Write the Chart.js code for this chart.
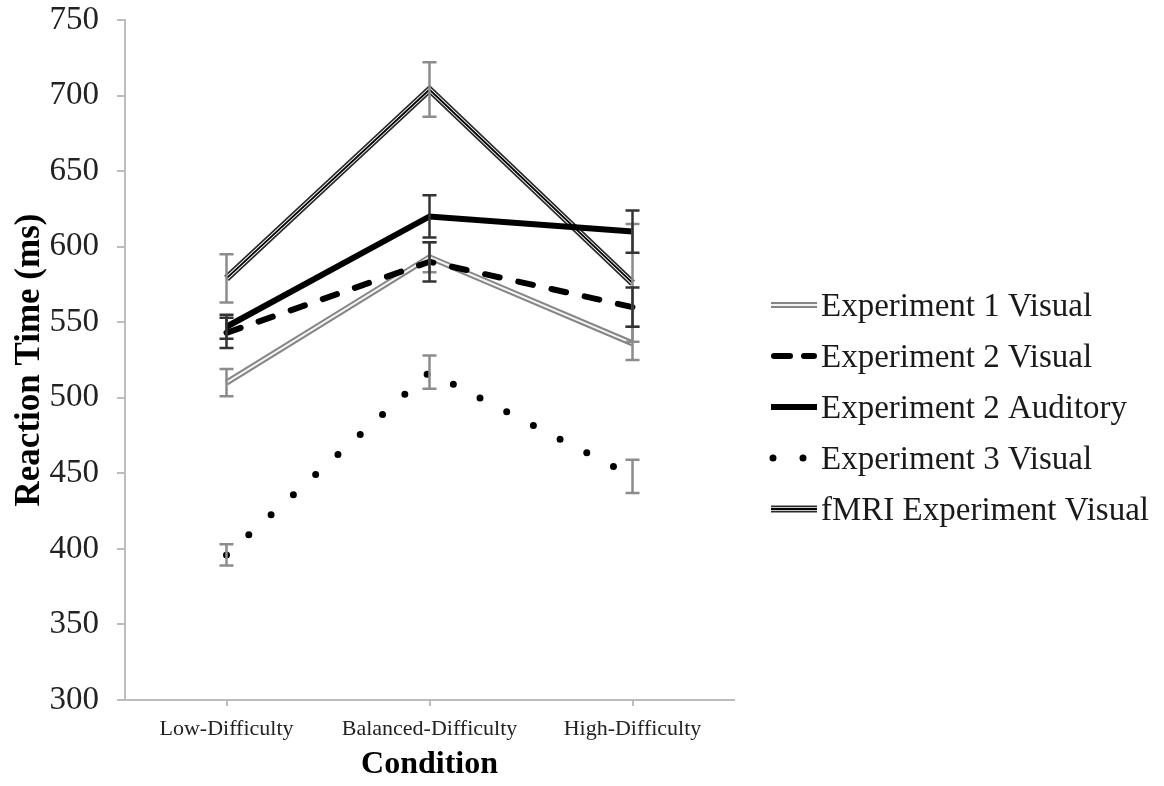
<!DOCTYPE html>
<html>
<head>
<meta charset="utf-8">
<script src="https://cdn.jsdelivr.net/npm/chart.js@4.4.0/dist/chart.umd.min.js"></script>
<style>
  html, body { margin: 0; padding: 0; background: #fff; }
</style>
</head>
<body>
<canvas id="grafico" width="1164" height="786"></canvas>
<script>
// Datos
const condiciones = ['Low-Difficulty', 'Balanced-Difficulty', 'High-Difficulty'];

const exp1Visual = [510, 593, 536];
const exp1VisualErr = [9, 10, 11];

const exp2Visual = [543, 590, 560];
const exp2VisualErr = [10, 13, 13];

const exp2Auditivo = [547, 620, 610];
const exp2AuditivoErr = [8, 14, 14];

const exp3Visual = [396, 517, 448];
const exp3VisualErr = [7, 11, 11];

const fmriVisual = [579, 704, 576];
const fmriVisualErr = [16, 18, 39];

const ejeYMin = 300;
const ejeYMax = 750;
const ejeYPaso = 50;

const fuente = "'Liberation Serif', 'Times New Roman', serif";

// Estilo de cada serie (capas de abajo hacia arriba)
const series = {
    exp1: { nombre: 'Experiment 1 Visual', datos: exp1Visual, err: exp1VisualErr, colorErr: '#8c8c8c',
            capas: [{ color: '#858585', ancho: 6 }, { color: '#f4f4f4', ancho: 2 }] },
    exp2v: { nombre: 'Experiment 2 Visual', datos: exp2Visual, err: exp2VisualErr, colorErr: '#333',
            capas: [{ color: '#000', ancho: 6, dash: [15, 19], cap: 'round' }] },
    exp2a: { nombre: 'Experiment 2 Auditory', datos: exp2Auditivo, err: exp2AuditivoErr, colorErr: '#333',
            capas: [{ color: '#000', ancho: 6 }] },
    exp3: { nombre: 'Experiment 3 Visual', datos: exp3Visual, err: exp3VisualErr, colorErr: '#8c8c8c',
            capas: [{ color: '#000', ancho: 7, dash: [0, 30], cap: 'round' }] },
    fmri: { nombre: 'fMRI Experiment Visual', datos: fmriVisual, err: fmriVisualErr, colorErr: '#8c8c8c',
            capas: [{ color: '#2a2a2a', ancho: 7 }, { color: '#fff', ancho: 3.6 }, { color: '#000', ancho: 1.8 }] }
};

const ordenLeyenda = ['exp1', 'exp2v', 'exp2a', 'exp3', 'fmri'];
const ordenDibujo = ['fmri', 'exp1', 'exp3', 'exp2a', 'exp2v'];

// Construir datasets: una capa por dataset
let datasets = [];
ordenDibujo.forEach(function(clave) {
    const s = series[clave];
    s.capas.forEach(function(capa, k) {
        datasets.push({
            label: s.nombre + (k ? ' ' + k : ''),
            data: s.datos,
            borderColor: capa.color,
            borderWidth: capa.ancho,
            borderDash: capa.dash || [],
            borderCapStyle: capa.cap || 'butt',
            borderJoinStyle: 'miter',
            pointRadius: 0,
            tension: 0,
            fill: false,
            order: -datasets.length,
            errores: k === 0 ? s.err : null,
            colorErr: s.colorErr
        });
    });
});

// Barras de error
const barrasError = {
    id: 'barrasError',
    afterDatasetsDraw(chart) {
        const ctx = chart.ctx;
        const y = chart.scales.y;
        chart.data.datasets.forEach(function(ds, i) {
            if (!ds.errores) return;
            const meta = chart.getDatasetMeta(i);
            meta.data.forEach(function(p, j) {
                const v = ds.data[j];
                const yTop = y.getPixelForValue(v + ds.errores[j]);
                const yBot = y.getPixelForValue(v - ds.errores[j]);
                ctx.save();
                ctx.strokeStyle = ds.colorErr;
                ctx.lineWidth = 2.5;
                ctx.beginPath();
                ctx.moveTo(p.x, yTop);
                ctx.lineTo(p.x, yBot);
                ctx.moveTo(p.x - 7, yTop);
                ctx.lineTo(p.x + 7, yTop);
                ctx.moveTo(p.x - 7, yBot);
                ctx.lineTo(p.x + 7, yBot);
                ctx.stroke();
                ctx.restore();
            });
        });
    }
};

// Leyenda a la derecha con muestras de línea compuestas
const leyendaLateral = {
    id: 'leyendaLateral',
    afterDraw(chart) {
        const ctx = chart.ctx;
        const x0 = 771, x1 = 817, xTexto = 821;
        ordenLeyenda.forEach(function(clave, i) {
            const s = series[clave];
            const yy = 305 + i * 51;
            s.capas.forEach(function(capa) {
                ctx.save();
                ctx.strokeStyle = capa.color;
                ctx.lineWidth = capa.ancho;
                ctx.setLineDash(capa.dash ? (capa.dash[0] === 0 ? [0, 30] : [16, 14]) : []);
                ctx.lineCap = capa.cap || 'butt';
                ctx.beginPath();
                if (capa.dash && capa.dash[0] === 0) {
                    ctx.moveTo(x0 + 2, yy);
                    ctx.lineTo(x1 - 10, yy);
                } else if (capa.dash) {
                    ctx.moveTo(x0 + 3, yy);
                    ctx.lineTo(x1 - 3, yy);
                } else {
                    ctx.moveTo(x0, yy);
                    ctx.lineTo(x1, yy);
                }
                ctx.stroke();
                ctx.restore();
            });
            ctx.save();
            ctx.fillStyle = '#1a1a1a';
            ctx.font = '33px ' + fuente;
            ctx.textBaseline = 'middle';
            ctx.fillText(s.nombre, xTexto, yy + 2);
            ctx.restore();
        });
    }
};

const ctx = document.getElementById('grafico').getContext('2d');
const grafico = new Chart(ctx, {
    type: 'line',
    data: {
        labels: condiciones,
        datasets: datasets
    },
    options: {
        responsive: false,
        animation: false,
        devicePixelRatio: 1,
        layout: { padding: { top: 20, right: 430, left: 0, bottom: 0 } },
        plugins: {
            legend: { display: false },
            tooltip: { enabled: false }
        },
        scales: {
            x: {
                offset: true,
                grid: { display: true, drawOnChartArea: false, drawTicks: true, tickLength: 6, color: '#bdbdbd', lineWidth: 2 },
                border: { color: '#bdbdbd', width: 2 },
                ticks: { color: '#222', font: { family: fuente, size: 22 }, padding: 10, maxRotation: 0 },
                title: { display: true, text: 'Condition', color: '#000',
                         font: { family: fuente, size: 32, weight: 'bold' }, padding: { top: 0, bottom: 2 } },
                afterFit(scale) { scale.height = 86; }
            },
            y: {
                min: ejeYMin,
                max: ejeYMax,
                ticks: { stepSize: ejeYPaso, color: '#222', font: { family: fuente, size: 33 }, padding: 18 },
                grid: { display: true, drawOnChartArea: false, drawTicks: true, tickLength: 8, color: '#bdbdbd', lineWidth: 2 },
                border: { color: '#bdbdbd', width: 2 },
                title: { display: true, text: 'Reaction Time (ms)', color: '#000',
                         font: { family: fuente, size: 35, weight: 'bold' }, padding: { top: 9, bottom: 0 } },
                afterFit(scale) {
                    scale.width = 125;
                    scale.paddingTop = 0;
                    scale.paddingBottom = 0;
                }
            }
        }
    },
    plugins: [barrasError, leyendaLateral]
});
</script>
</body>
</html>
